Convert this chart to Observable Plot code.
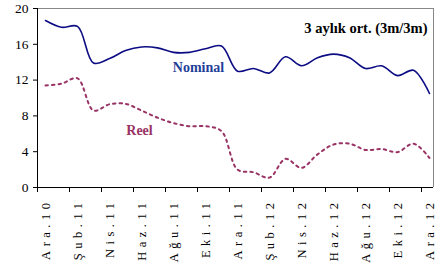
<!DOCTYPE html>
<html><head><meta charset="utf-8">
<script src="https://cdn.jsdelivr.net/npm/d3@7"></script>
<script src="https://cdn.jsdelivr.net/npm/@observablehq/plot@0.6"></script>
<style>
body{margin:0;background:#fff}
#chart svg{display:block}
#chart svg, #chart svg text{font-family:"Liberation Serif","Tinos","DejaVu Serif",serif !important}
g[aria-label="x-axis tick label"] text{letter-spacing:4.5px}
</style></head><body><div id="chart"></div>
<script>
const months = ["Ara.10","Oca.11","Şub.11","Mar.11","Nis.11","May.11","Haz.11","Tem.11","Ağu.11","Eyl.11","Eki.11","Kas.11",
  "Ara.11","Oca.12","Şub.12","Mar.12","Nis.12","May.12","Haz.12","Tem.12","Ağu.12","Eyl.12","Eki.12","Kas.12","Ara.12"];
const nominal = [18.66,17.9,18.0,13.9,14.4,15.3,15.7,15.6,15.1,15.1,15.5,15.8,
  13.0,13.3,12.8,14.6,13.6,14.5,14.9,14.5,13.3,13.6,12.5,13.1,10.5];
const reel = [11.4,11.6,12.2,8.6,9.3,9.35,8.6,7.8,7.2,6.85,6.85,6.3,
  2.0,1.7,1.1,3.2,2.2,3.7,4.8,4.9,4.2,4.3,3.95,4.9,3.3];
const yTicks = [0,4,8,12,16,20];
const title = "3 aylık ort. (3m/3m)";
const seriesNames = ["Nominal","Reel"];

const rows = months.map((m,i)=>({i, x:i+0.5, m, nominal:nominal[i], reel:reel[i]}));
const labelIdx = months.map((m,i)=>i).filter(i=>i%2===0);
const xMax = months.length - 0.25;

const chart = Plot.plot({
  width:439, height:263, marginTop:8, marginRight:6, marginBottom:76, marginLeft:37,
  style:{fontFamily:"Liberation Serif, DejaVu Serif, serif", fontSize:"12px", background:"#fff", color:"#000"},
  x:{domain:[0,xMax], axis:null},
  y:{domain:[0,20], axis:null},
  marks:[
    Plot.ruleY([20],{stroke:"#888"}),
    Plot.ruleX([xMax],{stroke:"#888"}),
    Plot.axisY({ticks:yTicks, tickSize:4, tickPadding:5, fontSize:13.5, label:null}),
    Plot.axisX({ticks:labelIdx, tickSize:5, tickFormat:()=>"", label:null}),
    Plot.axisX({ticks:labelIdx.map(i=>i+0.5), tickSize:0, tickRotate:-90, tickPadding:11, fontSize:12.5, label:null,
      tickFormat:d=>months[Math.round(d-0.5)]}),
    Plot.line(rows,{x:"x",y:"nominal",stroke:"#0c0c84",strokeWidth:1.6,curve:"catmull-rom"}),
    Plot.line(rows,{x:"x",y:"reel",stroke:"#993366",strokeWidth:2,strokeDasharray:"2.5,4",curve:"catmull-rom"}),
    Plot.ruleX([0],{stroke:"#000"}),
    Plot.ruleY([0],{stroke:"#000"}),
    Plot.text([title],{frameAnchor:"top-right", dx:-6, dy:20, lineAnchor:"middle", fontWeight:"bold", fontSize:14.5, fill:"#000"}),
    Plot.text([rows[9]],{x:"x", y:"nominal", text:()=>seriesNames[0], dx:9, dy:15, fontWeight:"bold", fontSize:14, fill:"#1f3f99"}),
    Plot.text([rows[5]],{x:"x", y:"reel", text:()=>seriesNames[1], dx:14, dy:27, fontWeight:"bold", fontSize:14, fill:"#993366"})
  ]
});
document.getElementById("chart").appendChild(chart);
</script></body></html>
